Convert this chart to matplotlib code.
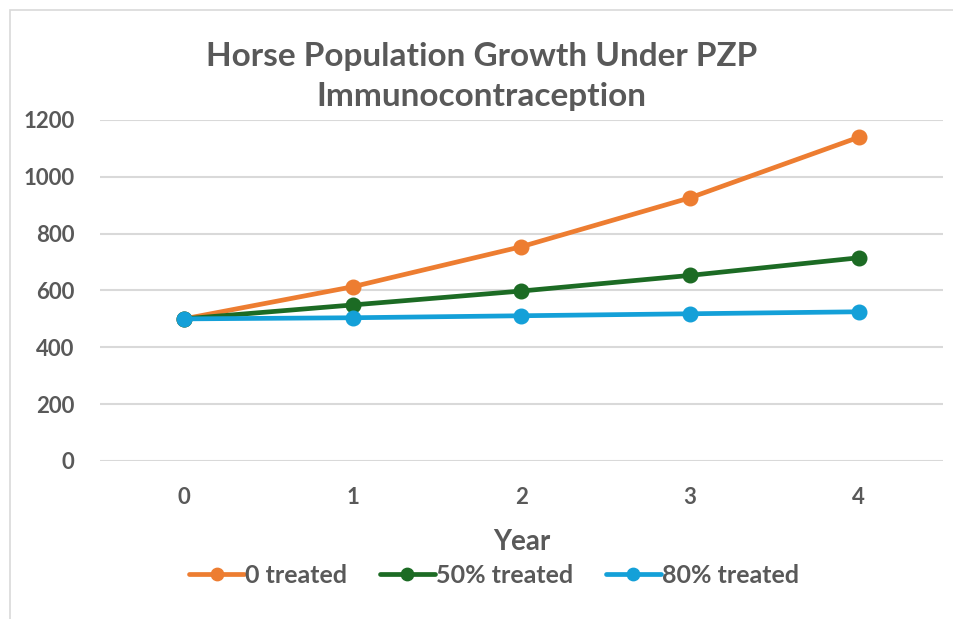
from matplotlib import pyplot as plt
from matplotlib.patches import Rectangle

years = [0, 1, 2, 3, 4]
year_labels = ["0", "1", "2", "3", "4"]
untreated = [500, 613, 754, 926, 1139]
treated_50 = [500, 549, 598, 653, 715]
treated_80 = [500, 504, 511, 518, 525]
series_names = ["0 treated", "50% treated", "80% treated"]
y_ticks = [0, 200, 400, 600, 800, 1000, 1200]

plt.rcParams["font.family"] = ["Lato", "DejaVu Sans"]
text_col = "#595959"

fig = plt.figure(figsize=(9.54, 6.19), dpi=100)
ax = fig.add_axes([0.1044, 0.2553, 0.8841, 0.5509])

# chart border (only left and top visible in the reference)
fig.patches.append(Rectangle((10 / 954, -0.1), 1.2, 1 - 10 / 619 + 0.1,
                             transform=fig.transFigure, fill=False,
                             edgecolor="#d9d9d9", linewidth=1.2))

colors = ["#ed7d31", "#1c6b24", "#14a0d8"]
for vals, name, c in zip([untreated, treated_50, treated_80], series_names, colors):
    ax.plot(years, vals, color=c, linewidth=3.4, marker="o", markersize=10.5,
            label=name, solid_capstyle="round")

ax.set_xlim(-0.5, 4.5)
ax.set_ylim(0, 1200)
ax.set_yticks(y_ticks)
ax.set_xticks(years)
ax.set_xticklabels(year_labels)
ax.grid(axis="y", color="#d9d9d9", linewidth=1.5)
ax.set_axisbelow(True)
for s in ax.spines.values():
    s.set_visible(False)
ax.tick_params(length=0, labelsize=16, labelcolor=text_col)
ax.tick_params(axis="y", pad=18)
ax.tick_params(axis="x", pad=19)
for lab in ax.get_xticklabels() + ax.get_yticklabels():
    lab.set_fontweight("bold")

ax.set_xlabel("Year", fontsize=20, fontweight="bold", color=text_col, labelpad=15)
fig.text(0.505, 0.876, "Horse Population Growth Under PZP\nImmunocontraception",
         ha="center", va="center", fontsize=24, fontweight="bold", color=text_col,
         linespacing=1.45)

leg = fig.legend(loc="center", bbox_to_anchor=(0.518, 0.07), ncol=3, frameon=False,
                 fontsize=18, handlelength=2.2, handletextpad=0.05, columnspacing=1.3,
                 markerscale=0.85)
for t in leg.get_texts():
    t.set_color(text_col)
    t.set_fontweight("bold")

fig.savefig("out.png", dpi=100)
